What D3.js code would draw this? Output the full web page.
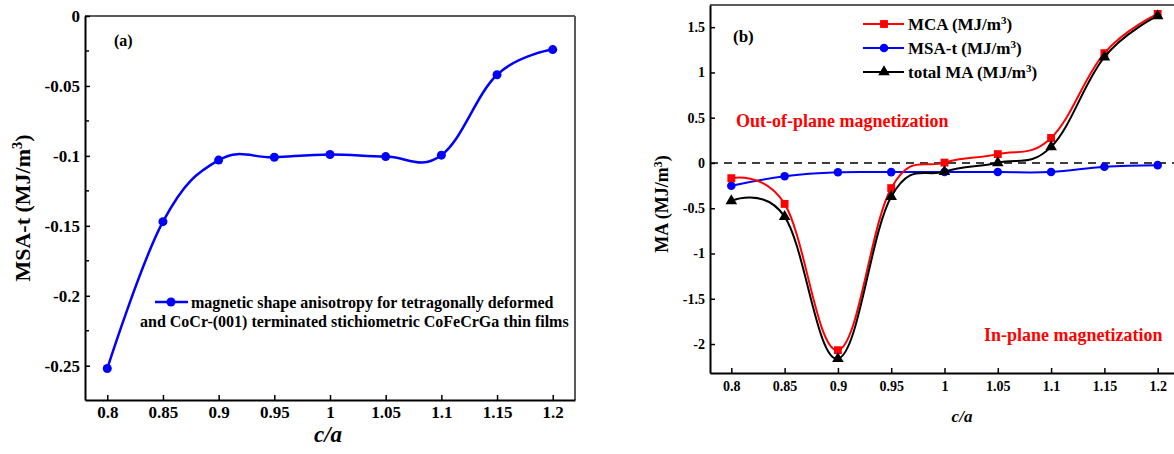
<!DOCTYPE html>
<html><head><meta charset="utf-8">
<script src="https://cdn.jsdelivr.net/npm/d3@7/dist/d3.min.js"></script>
<style>
html,body{margin:0;padding:0;background:#fff;}
svg{display:block;}
svg text{font-family:"Liberation Serif","Times New Roman",serif !important;font-weight:bold;}
</style></head>
<body>
<svg id="chart" width="1174" height="454"></svg>
<script>
// ---- data ----
const cOverA = [0.8, 0.85, 0.9, 0.95, 1.0, 1.05, 1.1, 1.15, 1.2];
const msaT = [-0.252, -0.147, -0.103, -0.101, -0.099, -0.1005, -0.0995, -0.042, -0.024];
const mca = [-0.168, -0.452, -2.068, -0.278, 0.004, 0.098, 0.276, 1.213, 1.646];
const totalMA = [-0.419, -0.592, -2.162, -0.372, -0.096, 0.002, 0.178, 1.169, 1.624];
const xTicks = [0.8, 0.85, 0.9, 0.95, 1, 1.05, 1.1, 1.15, 1.2];
const xTickLabels = ["0.8","0.85","0.9","0.95","1","1.05","1.1","1.15","1.2"];
const yTicksA = [0, -0.05, -0.1, -0.15, -0.2, -0.25];
const yTickLabelsA = ["0","-0.05","-0.1","-0.15","-0.2","-0.25"];
const yMinorA = [-0.025, -0.075, -0.125, -0.175, -0.225];
const yTicksB = [1.5, 1, 0.5, 0, -0.5, -1, -1.5, -2];
const yTickLabelsB = ["1.5","1","0.5","0","-0.5","-1","-1.5","-2"];
const legendA = ["magnetic shape anisotropy for tetragonally deformed",
                 "and CoCr-(001) terminated stichiometric CoFeCrGa thin films"];

const svg = d3.select("#chart");
const BLUE = "#0000ff", RED = "#ff0000", BLACK = "#000000";
const CURVE = d3.curveCardinal.tension(-0.15);

function frame(g, x0, x1, y0, y1) {
  g.append("line").attr("x1", x0).attr("x2", x1).attr("y1", y0).attr("y2", y0)
    .attr("stroke", "#5a5a5a").attr("stroke-width", 2);
  g.append("line").attr("x1", x1).attr("x2", x1).attr("y1", y0).attr("y2", y1)
    .attr("stroke", "#5a5a5a").attr("stroke-width", 2);
}

function sup(textSel, parts) {
  parts.forEach(p => {
    const t = textSel.append("tspan").text(p[0]);
    if (p[1]) t.attr("baseline-shift", "super").attr("font-size", "65%");
  });
}

function styleAxis(sel, fs) {
  sel.attr("font-family", null).attr("font-size", null);
  sel.select(".domain").attr("stroke", "#000").attr("stroke-width", 2);
  sel.selectAll(".tick line").attr("stroke-width", 1.5);
  sel.selectAll(".tick text").attr("font-size", fs).attr("fill", "#000");
}

// ================= Panel (a) =================
{
  const L = 85, R = 575, T = 16, B = 400;
  const x = d3.scaleLinear().domain([0.78, 1.22]).range([L, R]);
  const y = d3.scaleLinear().domain([-0.2745, 0]).range([B, T]);
  const g = svg.append("g");
  frame(g, L, R, T, B);

  const ya = g.append("g").attr("transform", `translate(${L},0)`)
    .call(d3.axisLeft(y).tickValues(yTicksA).tickFormat((d, i) => yTickLabelsA[i])
      .tickSizeInner(-5).tickSizeOuter(0).tickPadding(5));
  styleAxis(ya, 17);
  g.append("g").selectAll("line").data(yMinorA).join("line")
    .attr("x1", L).attr("x2", L + 4).attr("y1", d => y(d)).attr("y2", d => y(d))
    .attr("stroke", "#000").attr("stroke-width", 1.5);

  const xa = g.append("g").attr("transform", `translate(0,${B})`)
    .call(d3.axisBottom(x).tickValues(xTicks).tickFormat((d, i) => xTickLabels[i])
      .tickSizeInner(-5).tickSizeOuter(0).tickPadding(6));
  styleAxis(xa, 17);

  const yt = g.append("text").attr("transform", `translate(30,208) rotate(-90)`)
    .attr("text-anchor", "middle").attr("font-size", 22);
  sup(yt, [["MSA-t (MJ/m", false], ["3", true], [")", false]]);
  g.append("text").attr("x", 328).attr("y", 442).attr("text-anchor", "middle")
    .attr("font-size", 23).attr("font-style", "italic").text("c/a");
  g.append("text").attr("x", 114).attr("y", 46).attr("font-size", 16).text("(a)");

  const line = d3.line().x((d, i) => x(cOverA[i])).y(d => y(d)).curve(CURVE);
  g.append("path").attr("d", line(msaT)).attr("fill", "none").attr("stroke", BLUE).attr("stroke-width", 2.5);
  g.append("g").selectAll("circle").data(msaT).join("circle")
    .attr("cx", (d, i) => x(cOverA[i])).attr("cy", d => y(d)).attr("r", 4.5).attr("fill", BLUE);

  g.append("line").attr("x1", 155).attr("x2", 188).attr("y1", 302).attr("y2", 302)
    .attr("stroke", BLUE).attr("stroke-width", 2.5);
  g.append("circle").attr("cx", 171).attr("cy", 302).attr("r", 4.5).attr("fill", BLUE);
  g.append("text").attr("x", 191).attr("y", 307.5).attr("font-size", 16).text(legendA[0]);
  g.append("text").attr("x", 140).attr("y", 327).attr("font-size", 16).text(legendA[1]);
}

// ================= Panel (b) =================
{
  const L = 710, R = 1179, T = 5, B = 373;
  const x = d3.scaleLinear().domain([0.78, 1.22]).range([L, R]);
  const y = d3.scaleLinear().domain([-2.32, 1.745]).range([B, T]);
  const g = svg.append("g");
  frame(g, L, R, T, B);

  g.append("line").attr("x1", L).attr("x2", R).attr("y1", y(0)).attr("y2", y(0))
    .attr("stroke", "#000").attr("stroke-width", 1.5).attr("stroke-dasharray", "8,6");

  const ya = g.append("g").attr("transform", `translate(${L},0)`)
    .call(d3.axisLeft(y).tickValues(yTicksB).tickFormat((d, i) => yTickLabelsB[i])
      .tickSizeInner(-5).tickSizeOuter(0).tickPadding(5));
  styleAxis(ya, 14);

  const xa = g.append("g").attr("transform", `translate(0,${B})`)
    .call(d3.axisBottom(x).tickValues(xTicks).tickFormat((d, i) => xTickLabels[i])
      .tickSizeInner(-5).tickSizeOuter(0).tickPadding(8));
  styleAxis(xa, 14);

  const yt = g.append("text").attr("transform", `translate(668,204) rotate(-90)`)
    .attr("text-anchor", "middle").attr("font-size", 18);
  sup(yt, [["MA (MJ/m", false], ["3", true], [")", false]]);
  g.append("text").attr("x", 962).attr("y", 422).attr("text-anchor", "middle")
    .attr("font-size", 17).attr("font-style", "italic").text("c/a");
  g.append("text").attr("x", 733).attr("y", 42).attr("font-size", 17).text("(b)");

  g.append("text").attr("x", 736).attr("y", 127).attr("font-size", 18).attr("fill", RED)
    .text("Out-of-plane magnetization");
  g.append("text").attr("x", 984).attr("y", 341).attr("font-size", 18).attr("fill", RED)
    .text("In-plane magnetization");

  const line = d3.line().x((d, i) => x(cOverA[i])).y(d => y(d)).curve(CURVE);
  const tri = d3.symbol().type(d3.symbolTriangle).size(58);
  const sq = d3.symbol().type(d3.symbolSquare).size(62);

  g.append("path").attr("d", line(msaT)).attr("fill", "none").attr("stroke", BLUE).attr("stroke-width", 2);
  g.append("g").selectAll("circle").data(msaT).join("circle")
    .attr("cx", (d, i) => x(cOverA[i])).attr("cy", d => y(d)).attr("r", 4.3).attr("fill", BLUE);
  g.append("path").attr("d", line(mca)).attr("fill", "none").attr("stroke", RED).attr("stroke-width", 2);
  g.append("g").selectAll("path").data(mca).join("path")
    .attr("d", sq).attr("transform", (d, i) => `translate(${x(cOverA[i])},${y(d)})`).attr("fill", RED);
  g.append("path").attr("d", line(totalMA)).attr("fill", "none").attr("stroke", BLACK).attr("stroke-width", 2);
  g.append("g").selectAll("path.tri").data(totalMA).join("path")
    .attr("d", tri).attr("transform", (d, i) => `translate(${x(cOverA[i])},${y(d)})`).attr("fill", BLACK);

  const lg = g.append("g");
  const rows = [
    {c: RED, m: "sq", label: "MCA (MJ/m"},
    {c: BLUE, m: "ci", label: "MSA-t (MJ/m"},
    {c: BLACK, m: "tr", label: "total MA (MJ/m"}
  ];
  rows.forEach((r, i) => {
    const yy = 24 + i * 24;
    lg.append("line").attr("x1", 863).attr("x2", 904).attr("y1", yy).attr("y2", yy)
      .attr("stroke", r.c).attr("stroke-width", 2);
    if (r.m === "sq") lg.append("path").attr("d", sq).attr("transform", `translate(884,${yy})`).attr("fill", r.c);
    if (r.m === "ci") lg.append("circle").attr("cx", 884).attr("cy", yy).attr("r", 4.3).attr("fill", r.c);
    if (r.m === "tr") lg.append("path").attr("d", tri).attr("transform", `translate(884,${yy})`).attr("fill", r.c);
    const t = lg.append("text").attr("x", 908).attr("y", yy + 6).attr("font-size", 17);
    sup(t, [[r.label, false], ["3", true], [")", false]]);
  });
}
</script>
</body></html>
